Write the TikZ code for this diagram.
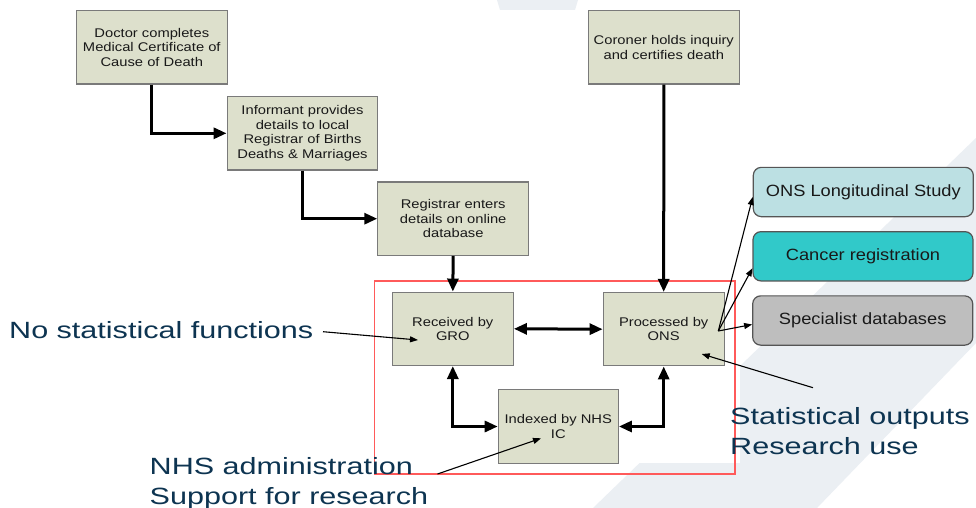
\documentclass[tikz,border=0pt]{standalone}
\usepackage{fontspec}
\setmainfont{Liberation Sans}
\newfontfamily\bxfont[FakeStretch=1.17]{Liberation Sans}
\newfontfamily\obfont[FakeStretch=1.12]{Liberation Sans}
\newfontfamily\anfont[FakeStretch=1.3]{Liberation Sans}
\usetikzlibrary{arrows.meta}
\definecolor{boxfill}{HTML}{DDE0CC}
\definecolor{boxline}{HTML}{7A7A7A}
\definecolor{outline}{HTML}{555555}
\definecolor{lsfill}{HTML}{BCE0E3}
\definecolor{canfill}{HTML}{31C9C9}
\definecolor{specfill}{HTML}{BEBEBE}
\definecolor{annot}{HTML}{0D3451}
\definecolor{wmark}{HTML}{EBEFF3}
\definecolor{redframe}{HTML}{FF5A5A}
\tikzset{
  flowbox/.style={draw=boxline, fill=boxfill, line width=1.2pt, align=center, inner sep=0pt,
    font=\bxfont\fontsize{12.6}{14.5}\selectfont, text=black!90},
  bigbox/.style={flowbox, minimum width=150.7pt, minimum height=73.3pt},
  smallbox/.style={flowbox, minimum width=121pt, minimum height=73.3pt},
  outbox/.style={draw=outline, rounded corners=8pt, line width=1.2pt, minimum width=220pt,
    minimum height=49.3pt, inner sep=0pt, font=\obfont\fontsize{16.3}{18}\selectfont, text=black!90},
  annotext/.style={anchor=base west, align=left, inner sep=0pt, text=annot,
    font=\anfont\fontsize{23.5}{30}\selectfont},
  bigarrow/.style={line width=3pt, -{Triangle[length=13pt,width=11pt]}},
  bothbig/.style={line width=3pt, {Triangle[length=13pt,width=11pt]}-{Triangle[length=13pt,width=11pt]}},
  thinarrow/.style={line width=1.1pt, -{Triangle[length=8pt,width=6pt]}}
}
\begin{document}
\begin{tikzpicture}[x=1pt,y=-1pt]
\useasboundingbox (0,0) rectangle (976,508);
\fill[white] (0,0) rectangle (976,508);
% watermark
\fill[wmark] (593,508) -- (976,138) -- (976,343) -- (817,508) -- cycle;
\fill[wmark] (497,0) -- (578,0) -- (575,10) -- (500,10) -- cycle;
\fill[white] (0,10) rectangle (740,463);

% boxes
\node[bigbox] (doc) at (151.8,47.3) {Doctor completes\\Medical Certificate of\\Cause of Death};
\node[bigbox] (inf) at (302.5,133.3) {Informant provides\\details to local\\Registrar of Births\\Deaths \& Marriages};
\node[bigbox] (reg) at (453.2,218.7) {Registrar enters\\details on online\\database};
\node[bigbox] (cor) at (663.8,47.3) {Coroner holds inquiry\\and certifies death};
\node[smallbox] (gro) at (452.8,328.8) {Received by\\GRO};
\node[smallbox] (ons) at (663.7,329.2) {Processed by\\ONS};
\node[smallbox, minimum width=120pt] (nhs) at (558.3,426.5) {Indexed by NHS\\IC};

\node[outbox, fill=lsfill] (ls) at (863.3,192) {ONS Longitudinal Study};
\node[outbox, fill=canfill] (can) at (863,256.3) {Cancer registration};
\node[outbox, fill=specfill] (spec) at (862.7,320.5) {Specialist databases};

% red frame
\draw[redframe, line width=1.1pt] (374.3,281) rectangle (735,474);

% thick connectors
\draw[bigarrow] (doc.south) |- (inf.west);
\draw[bigarrow] (inf.south) |- (reg.west);
\draw[bigarrow] (reg.south) -- (gro.north);
\draw[bigarrow] (cor.south) -- (ons.north);
\draw[bothbig] (gro.east) -- (ons.west);
\draw[bothbig] (gro.south) |- (nhs.west);
\draw[bothbig] (ons.south) |- (nhs.east);

% fan to outputs
\coordinate (fan) at (718.3,331);
\draw[thinarrow] (fan) -- ([yshift=-5pt]ls.west);
\draw[thinarrow] (fan) -- ([yshift=-12pt]can.west);
\draw[thinarrow] (fan) -- ([yshift=-4pt]spec.west);

% annotations (base anchor = baseline of last line)
\node[annotext] (nostat) at (9,338) {No statistical functions};
\node[annotext] (nhsadm) at (149.5,504) {NHS administration\\Support for research};
\node[annotext] (statout) at (730,454) {Statistical outputs\\Research use};

\coordinate (nsTail) at (323,331.7);
\coordinate (nsTip) at (418,340);
\coordinate (nhTail) at (437.5,474);
\coordinate (nhTip) at (541,438.3);
\coordinate (soTail) at (813,387.7);
\coordinate (soTip) at (701.7,354);
\draw[thinarrow] (nsTail) -- (nsTip);
\draw[thinarrow] (nhTail) -- (nhTip);
\draw[thinarrow] (soTail) -- (soTip);
\end{tikzpicture}
\end{document}
